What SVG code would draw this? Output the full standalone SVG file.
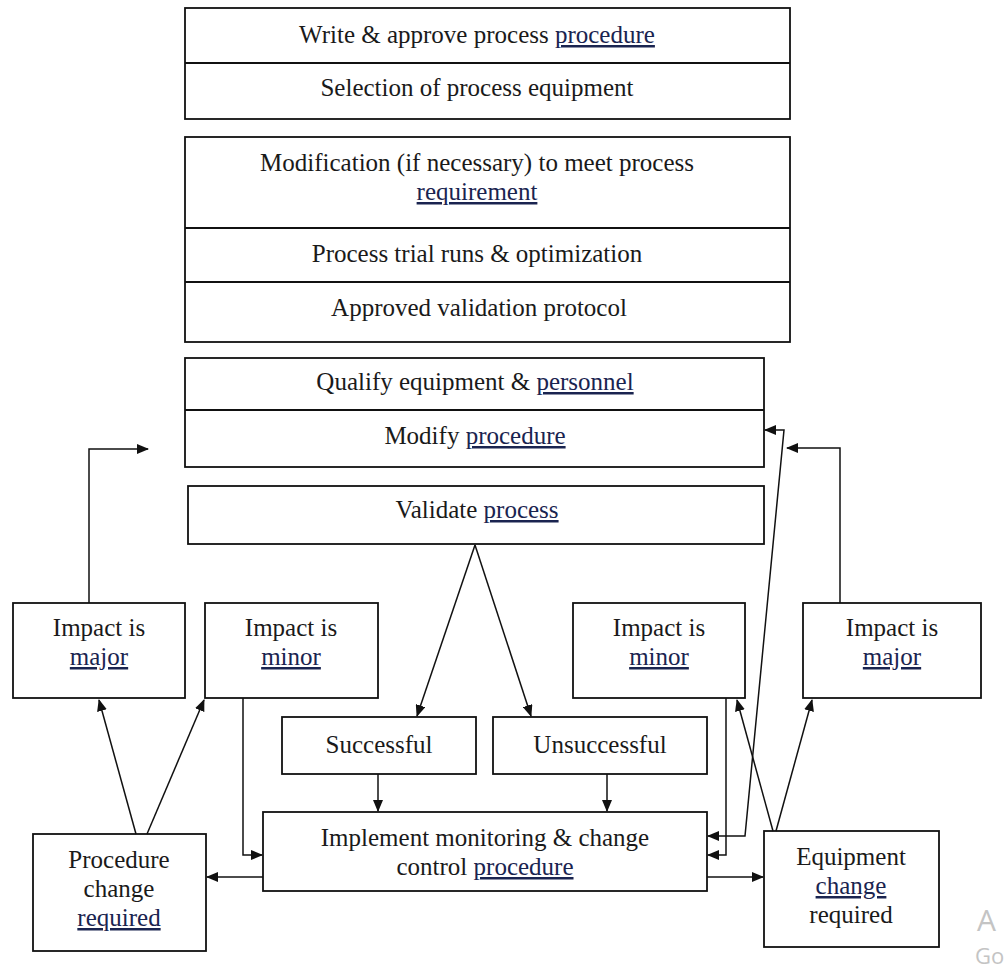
<svg xmlns="http://www.w3.org/2000/svg" width="1006" height="972" viewBox="0 0 1006 972">
<style>
.box{fill:#fff;stroke:#111;stroke-width:1.8}
.div{stroke:#111;stroke-width:1.8}
.t{font-family:"Liberation Serif","Times New Roman",serif;font-size:25px;fill:#1a1a1a;text-anchor:middle}
.u{fill:#1a2450;text-decoration:underline}
.c{fill:none;stroke:#111;stroke-width:1.5}
.wm{font-family:"Open Sans","Noto Sans",sans-serif;fill:#c4c4c4}
</style>
<defs>
<marker id="ah" markerUnits="userSpaceOnUse" markerWidth="12" markerHeight="10" refX="11" refY="5" orient="auto-start-reverse">
<path d="M0,0 L12,5 L0,10 z" fill="#111"/>
</marker>
</defs>
<rect width="1006" height="972" fill="#fff"/>

<g id="n-top">
<rect class="box" x="185" y="8" width="605" height="111"/>
<line class="div" x1="185" y1="63" x2="790" y2="63"/>
<text class="t" x="477" y="43">Write &amp; approve process <tspan class="u">procedure</tspan></text>
<text class="t" x="477" y="96">Selection of process equipment</text>
</g>

<g id="n-mod">
<rect class="box" x="185" y="137" width="605" height="205"/>
<line class="div" x1="185" y1="228" x2="790" y2="228"/>
<line class="div" x1="185" y1="282" x2="790" y2="282"/>
<text class="t" x="477" y="171">Modification (if necessary) to meet process</text>
<text class="t" x="477" y="200"><tspan class="u">requirement</tspan></text>
<text class="t" x="477" y="262">Process trial runs &amp; optimization</text>
<text class="t" x="479" y="316">Approved validation protocol</text>
</g>

<g id="n-qual">
<rect class="box" x="185" y="358" width="579" height="109"/>
<line class="div" x1="185" y1="410" x2="764" y2="410"/>
<text class="t" x="475" y="390">Qualify equipment &amp; <tspan class="u">personnel</tspan></text>
<text class="t" x="475" y="444">Modify <tspan class="u">procedure</tspan></text>
</g>

<g id="n-validate">
<rect class="box" x="188" y="486" width="576" height="58"/>
<text class="t" x="477" y="518">Validate <tspan class="u">process</tspan></text>
</g>

<g id="n-major-l">
<rect class="box" x="13" y="603" width="172" height="95"/>
<text class="t" x="99" y="636">Impact is</text>
<text class="t" x="99" y="665"><tspan class="u">major</tspan></text>
</g>

<g id="n-minor-l">
<rect class="box" x="205" y="603" width="173" height="95"/>
<text class="t" x="291" y="636">Impact is</text>
<text class="t" x="291" y="665"><tspan class="u">minor</tspan></text>
</g>

<g id="n-minor-r">
<rect class="box" x="573" y="603" width="172" height="95"/>
<text class="t" x="659" y="636">Impact is</text>
<text class="t" x="659" y="665"><tspan class="u">minor</tspan></text>
</g>

<g id="n-major-r">
<rect class="box" x="803" y="603" width="178" height="95"/>
<text class="t" x="892" y="636">Impact is</text>
<text class="t" x="892" y="665"><tspan class="u">major</tspan></text>
</g>

<g id="n-success">
<rect class="box" x="282" y="717" width="194" height="57"/>
<text class="t" x="379" y="753">Successful</text>
</g>

<g id="n-unsuccess">
<rect class="box" x="493" y="717" width="214" height="57"/>
<text class="t" x="600" y="753">Unsuccessful</text>
</g>

<g id="n-implement">
<rect class="box" x="263" y="812" width="444" height="79"/>
<text class="t" x="485" y="846">Implement monitoring &amp; change</text>
<text class="t" x="485" y="875">control <tspan class="u">procedure</tspan></text>
</g>

<g id="n-proc-change">
<rect class="box" x="33" y="834" width="173" height="117"/>
<text class="t" x="119" y="868">Procedure</text>
<text class="t" x="119" y="897">change</text>
<text class="t" x="119" y="926"><tspan class="u">required</tspan></text>
</g>

<g id="n-equip-change">
<rect class="box" x="764" y="831" width="175" height="116"/>
<text class="t" x="851" y="865">Equipment</text>
<text class="t" x="851" y="894"><tspan class="u">change</tspan></text>
<text class="t" x="851" y="923">required</text>
</g>

<g id="connectors">
<polyline class="c" points="89,603 89,449 148,449" marker-end="url(#ah)"/>
<polyline class="c" points="840,603 840,448 787,448" marker-end="url(#ah)"/>
<polyline class="c" points="765,430 784,430 745,836 708,836" marker-start="url(#ah)" marker-end="url(#ah)"/>
<polyline class="c" points="726,698 726,855 708,855" marker-end="url(#ah)"/>
<polyline class="c" points="243,698 243,855 262,855" marker-end="url(#ah)"/>
<line class="c" x1="378" y1="774" x2="378" y2="811" marker-end="url(#ah)"/>
<line class="c" x1="607" y1="774" x2="607" y2="811" marker-end="url(#ah)"/>
<line class="c" x1="263" y1="877" x2="207" y2="877" marker-end="url(#ah)"/>
<line class="c" x1="707" y1="877" x2="763" y2="877" marker-end="url(#ah)"/>
<line class="c" x1="136" y1="834" x2="99" y2="700" marker-end="url(#ah)"/>
<line class="c" x1="147" y1="834" x2="204" y2="700" marker-end="url(#ah)"/>
<line class="c" x1="773" y1="831" x2="737" y2="700" marker-end="url(#ah)"/>
<line class="c" x1="776" y1="831" x2="812" y2="700" marker-end="url(#ah)"/>
<line class="c" x1="475" y1="545" x2="417" y2="716" marker-end="url(#ah)"/>
<line class="c" x1="475" y1="545" x2="531" y2="716" marker-end="url(#ah)"/>
</g>

<text class="wm" x="977" y="931" font-size="30">A</text>
<text class="wm" x="975" y="964" font-size="22">Go</text>
</svg>
